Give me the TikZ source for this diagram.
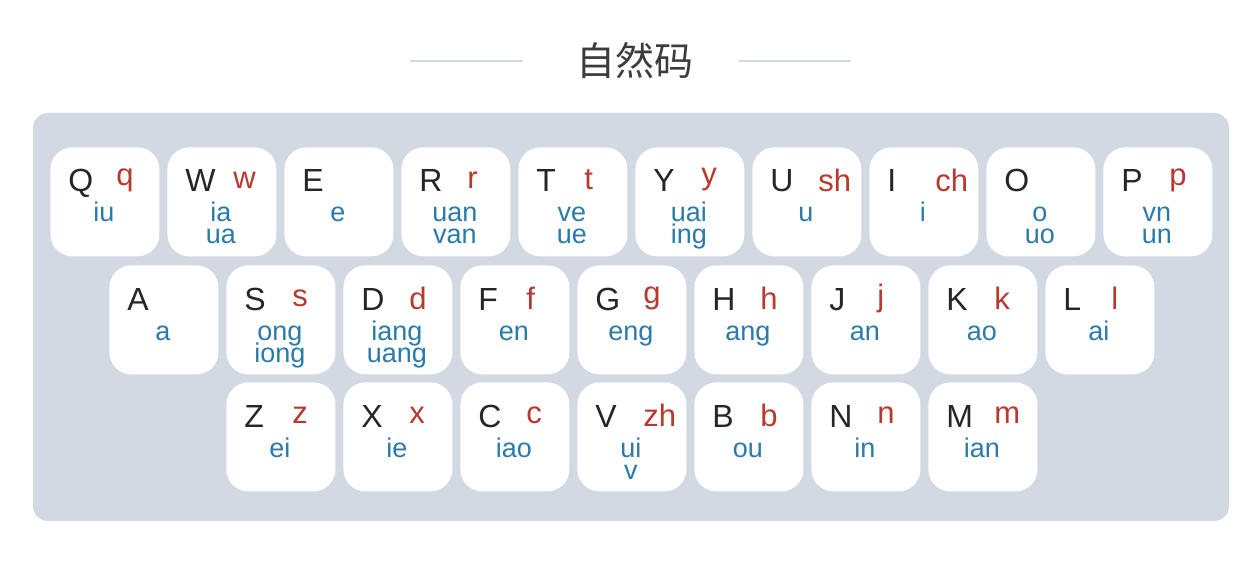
\documentclass[tikz,border=0pt]{standalone}
\usepackage{fontspec}
\setmainfont{Liberation Sans}
\newfontfamily\cjk{Noto Sans CJK SC}
\usetikzlibrary{positioning}

\definecolor{panelgray}{HTML}{D3D9E3}
\definecolor{rulegray}{HTML}{D3D8DE}
\definecolor{capblack}{HTML}{262626}
\definecolor{initred}{HTML}{B8392E}
\definecolor{finalblue}{HTML}{2A7BAA}

\tikzset{
  panel/.style={fill=panelgray, rounded corners=7.5pt},
  keycap/.style={rectangle, fill=white, rounded corners=11pt, inner sep=0pt,
    minimum width=54.5pt, minimum height=54.5pt, anchor=north west},
  capletter/.style={inner sep=0pt, anchor=base west, text=capblack,
    font=\fontsize{16}{19}\selectfont},
  initial/.style={inner sep=0pt, anchor=west, text=initred,
    font=\fontsize{15.5}{18}\selectfont},
  final/.style={inner sep=0pt, anchor=base, text=finalblue,
    font=\fontsize{13.5}{16}\selectfont},
  titlerule/.style={draw=rulegray, line width=1pt},
  title/.style={inner sep=0pt, text=capblack!90, font=\cjk\fontsize{19.5}{22}\selectfont}
}

% one key: name, x, y, letter, initial, final, second final
\newcommand{\kbkey}[7]{%
  \node[keycap] (#1) at (#2,#3) {};
  \node[capletter] (#1-cap) at ([shift={(18,45)}]#1.north west) {#4};
  \if\relax\detokenize{#5}\relax\else
    \node[initial] (#1-ini) at ([shift={(66,33)}]#1.north west) {#5};\fi
  \node[final] (#1-fin) at ([shift={(-1,75)}]#1.north) {#6};
  \if\relax\detokenize{#7}\relax\else
    \node[final] (#1-fin2) at ([shift={(-1,97)}]#1.north) {#7};\fi
}

\begin{document}
\begin{tikzpicture}[x=0.5pt, y=-0.5pt]
\useasboundingbox (0,0) rectangle (1256,587);

% Title
\node[title] (title) at (635,61) {自然码};
\draw[titlerule] (410,61) -- (523,61);
\draw[titlerule] (739,61) -- (851,61);

% Keyboard panel
\fill[panel] (33,113) rectangle (1229,521);

% ── Row 1 ──────────────────────────────────────────────
\kbkey{kQ}{50}{147}{Q}{q}{iu}{}
\kbkey{kW}{167}{147}{W}{w}{ia}{ua}
\kbkey{kE}{284}{147}{E}{}{e}{}
\kbkey{kR}{401}{147}{R}{r}{uan}{van}
\kbkey{kT}{518}{147}{T}{t}{ve}{ue}
\kbkey{kY}{635}{147}{Y}{y}{uai}{ing}
\kbkey{kU}{752}{147}{U}{sh}{u}{}
\kbkey{kI}{869}{147}{I}{ch}{i}{}
\kbkey{kO}{986}{147}{O}{}{o}{uo}
\kbkey{kP}{1103}{147}{P}{p}{vn}{un}

% ── Row 2 ──────────────────────────────────────────────
\kbkey{kA}{109}{265}{A}{}{a}{}
\kbkey{kS}{226}{265}{S}{s}{ong}{iong}
\kbkey{kD}{343}{265}{D}{d}{iang}{uang}
\kbkey{kF}{460}{265}{F}{f}{en}{}
\kbkey{kG}{577}{265}{G}{g}{eng}{}
\kbkey{kH}{694}{265}{H}{h}{ang}{}
\kbkey{kJ}{811}{265}{J}{j}{an}{}
\kbkey{kK}{928}{265}{K}{k}{ao}{}
\kbkey{kL}{1045}{265}{L}{l}{ai}{}

% ── Row 3 ──────────────────────────────────────────────
\kbkey{kZ}{226}{382}{Z}{z}{ei}{}
\kbkey{kX}{343}{382}{X}{x}{ie}{}
\kbkey{kC}{460}{382}{C}{c}{iao}{}
\kbkey{kV}{577}{382}{V}{zh}{ui}{v}
\kbkey{kB}{694}{382}{B}{b}{ou}{}
\kbkey{kN}{811}{382}{N}{n}{in}{}
\kbkey{kM}{928}{382}{M}{m}{ian}{}

\end{tikzpicture}
\end{document}
